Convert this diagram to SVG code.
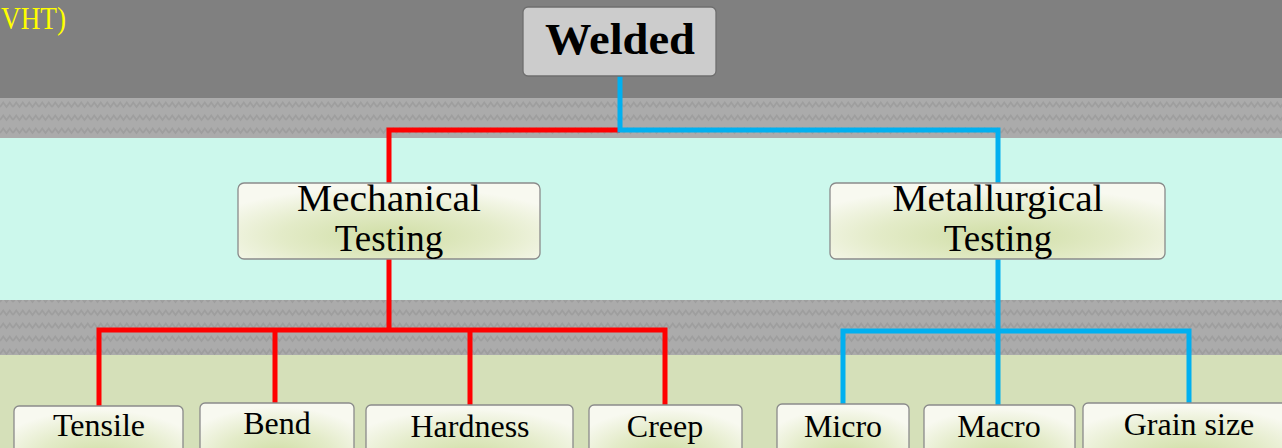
<svg xmlns="http://www.w3.org/2000/svg" width="1282" height="448" viewBox="0 0 1282 448">
  <defs>
    <pattern id="zigzag" x="0" y="98" width="13" height="13" patternUnits="userSpaceOnUse">
      <rect width="13" height="13" fill="#ababab"/>
      <polyline points="0,9 3.25,4.5 6.5,9 9.75,4.5 13,9" fill="none" stroke="#9e9e9e" stroke-width="1.8"/>
    </pattern>
    <radialGradient id="boxFill" cx="0.5" cy="0.7" r="0.65" fx="0.5" fy="0.7">
      <stop offset="0" stop-color="#d0dea5"/>
      <stop offset="0.55" stop-color="#e3ebc8"/>
      <stop offset="1" stop-color="#f8f9f0"/>
    </radialGradient>
  </defs>
  <style>
    .box { fill: url(#boxFill); stroke: #8a8a8a; stroke-width: 1.3; }
    .top { fill: #cccccc; stroke: #6e6e6e; stroke-width: 1.3; }
    .lbl { font-family: "Liberation Serif", "DejaVu Serif", serif; fill: #000; text-anchor: middle; }
    .mid { font-size: 37px; }
    .low { font-size: 32px; }
    .red { fill: none; stroke: #ff0000; stroke-width: 5; }
    .blue { fill: none; stroke: #00b0f0; stroke-width: 5; }
  </style>

  <!-- background bands -->
  <rect x="0" y="0" width="1282" height="98" fill="#808080"/>
  <rect x="0" y="98" width="1282" height="40" fill="url(#zigzag)"/>
  <rect x="0" y="138" width="1282" height="162" fill="#ccf8ec"/>
  <rect x="0" y="300" width="1282" height="55" fill="url(#zigzag)"/>
  <rect x="0" y="355" width="1282" height="93" fill="#d5e0b9"/>

  <text x="1" y="29" font-family="Liberation Serif, serif" font-size="31" fill="#ffff00" textLength="65" lengthAdjust="spacingAndGlyphs">VHT)</text>

  <!-- connectors -->
  <g id="connectors">
    <path class="red" d="M620,130 H389 V184"/>
    <path class="blue" d="M620,76 V130 H998 V184"/>
    <path class="red" d="M389,259 V330 M99,406 V330 H665 V405 M275,330 V403 M470,330 V405"/>
    <path class="blue" d="M998,259 V405 M843,404 V331 H1189 V403"/>
  </g>

  <g id="welded">
    <rect class="top" x="523" y="7" width="193" height="69" rx="5"/>
    <text class="lbl" x="620" y="54" font-size="44" font-weight="bold" textLength="150" lengthAdjust="spacingAndGlyphs">Welded</text>
  </g>

  <g id="mechanical">
    <rect class="box" x="238" y="183" width="302" height="76" rx="6"/>
    <text class="lbl mid" x="389" y="211" textLength="184" lengthAdjust="spacingAndGlyphs">Mechanical</text>
    <text class="lbl mid" x="389" y="251">Testing</text>
  </g>

  <g id="metallurgical">
    <rect class="box" x="830" y="183" width="335" height="76" rx="6"/>
    <text class="lbl mid" x="998" y="211" textLength="211" lengthAdjust="spacingAndGlyphs">Metallurgical</text>
    <text class="lbl mid" x="998" y="251">Testing</text>
  </g>

  <g id="tensile">
    <rect class="box" x="14" y="406" width="169" height="76" rx="5"/>
    <text class="lbl low" x="99" y="436">Tensile</text>
  </g>
  <g id="bend">
    <rect class="box" x="200" y="403" width="154" height="76" rx="5"/>
    <text class="lbl low" x="277" y="434">Bend</text>
  </g>
  <g id="hardness">
    <rect class="box" x="366" y="405" width="207" height="76" rx="5"/>
    <text class="lbl low" x="470" y="437">Hardness</text>
  </g>
  <g id="creep">
    <rect class="box" x="589" y="405" width="153" height="76" rx="5"/>
    <text class="lbl low" x="665" y="437">Creep</text>
  </g>
  <g id="micro">
    <rect class="box" x="777" y="404" width="132" height="76" rx="5"/>
    <text class="lbl low" x="843" y="437">Micro</text>
  </g>
  <g id="macro">
    <rect class="box" x="924" y="405" width="151" height="76" rx="5"/>
    <text class="lbl low" x="999" y="437">Macro</text>
  </g>
  <g id="grainsize">
    <rect class="box" x="1083" y="403" width="210" height="76" rx="5"/>
    <text class="lbl low" x="1189" y="435">Grain size</text>
  </g>
</svg>
